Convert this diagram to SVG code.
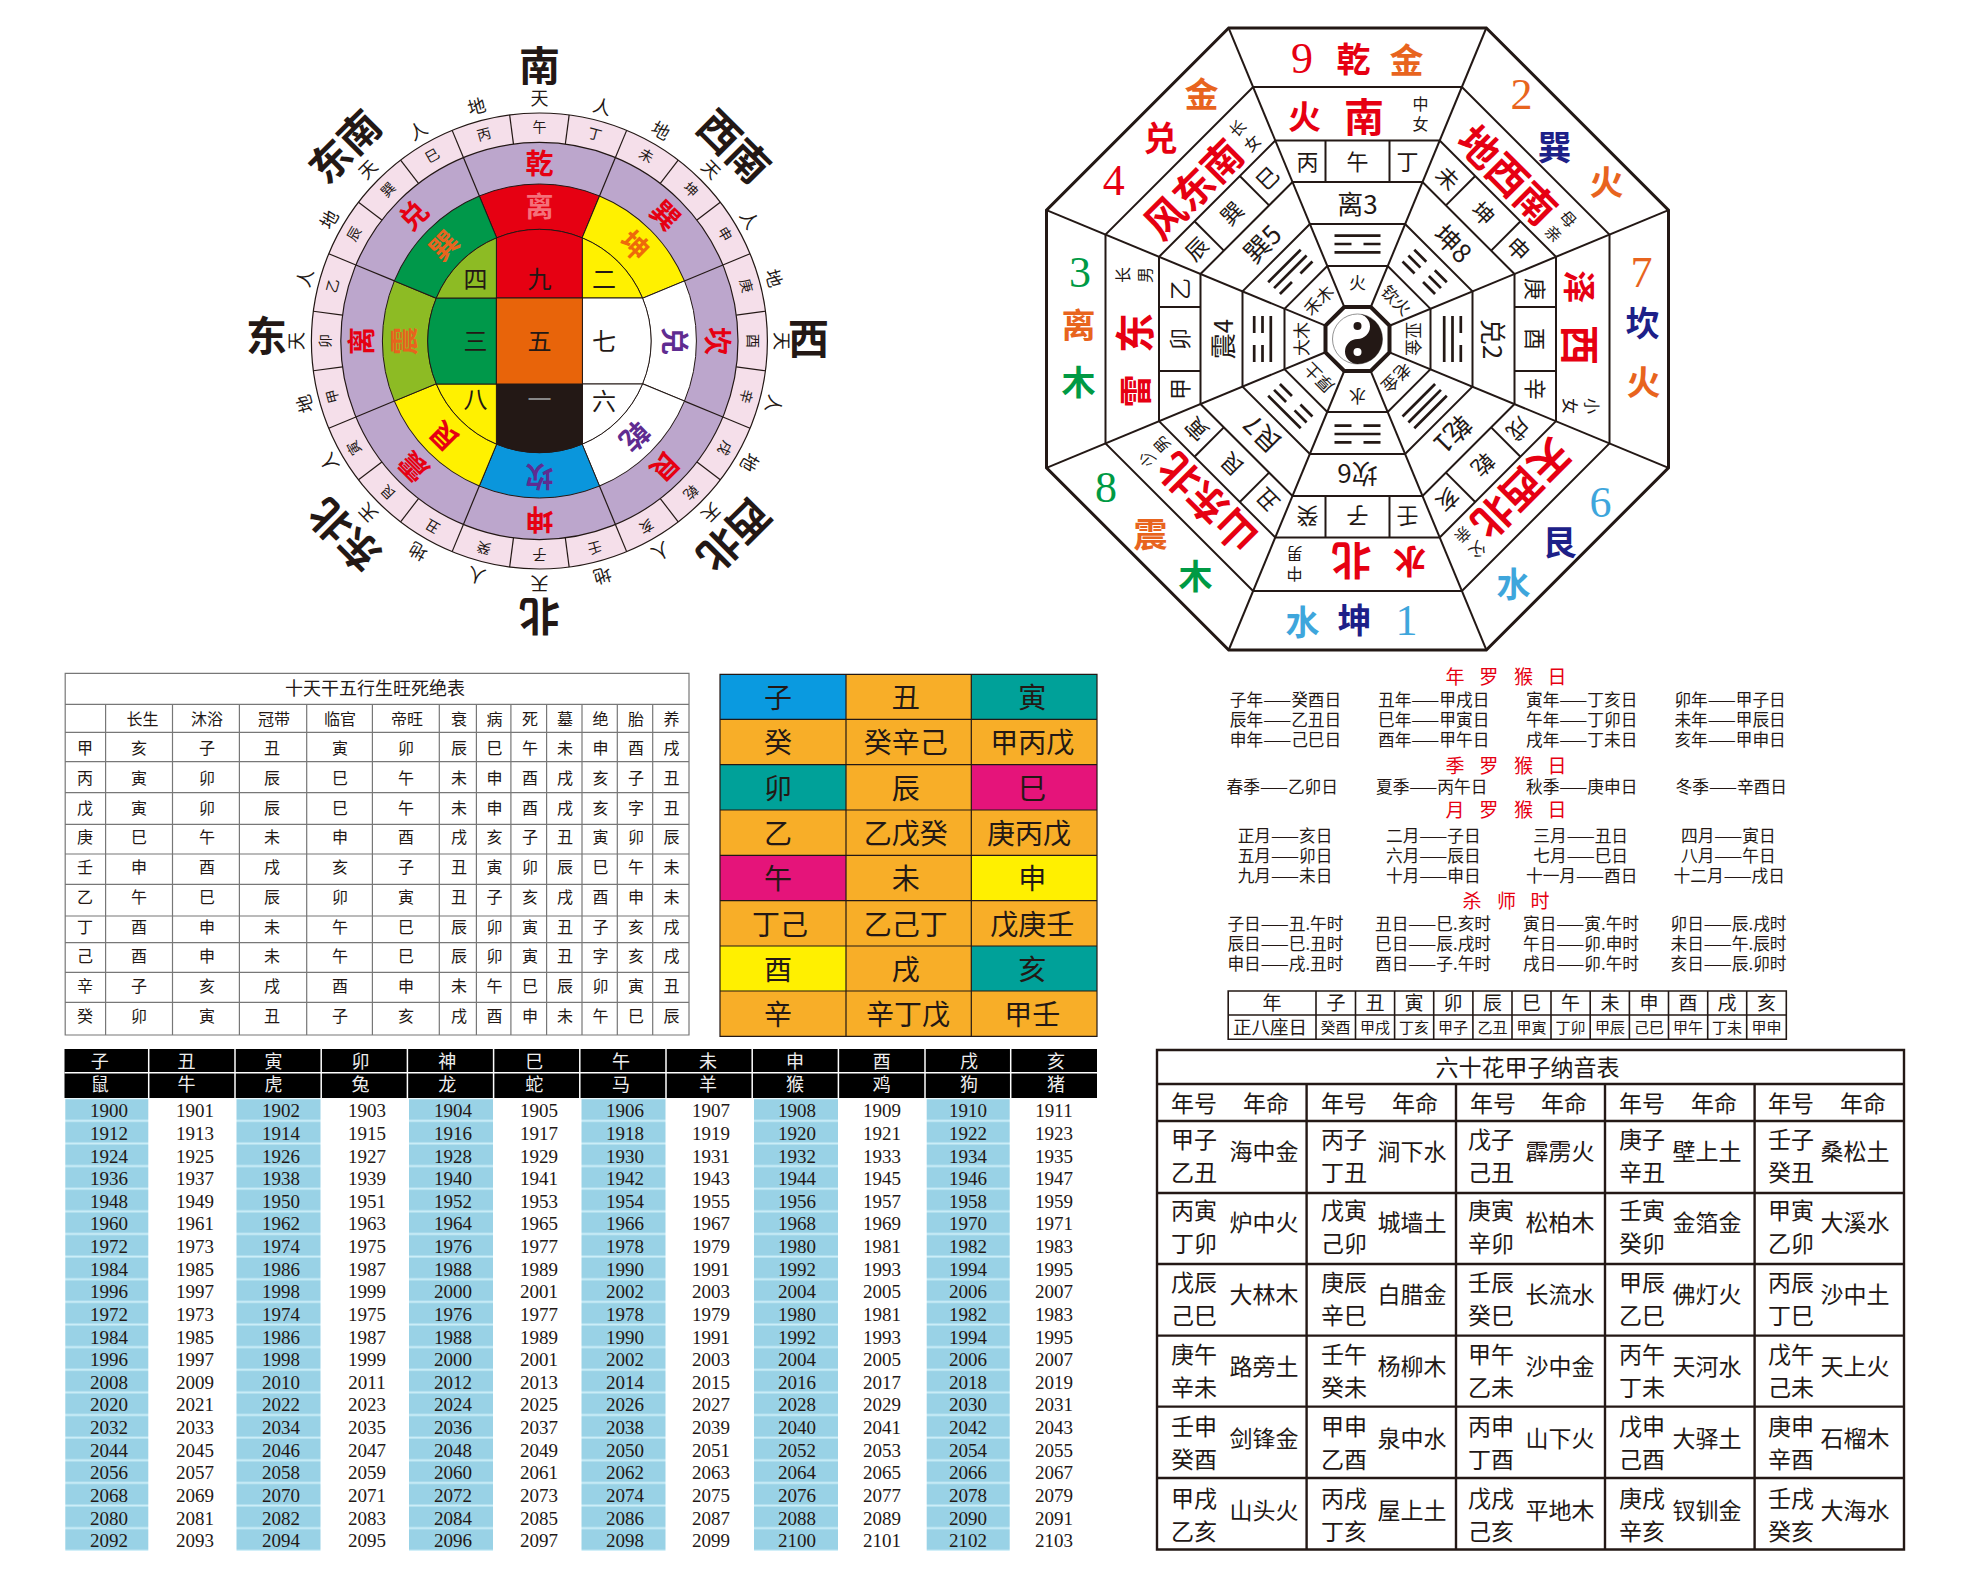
<svg xmlns="http://www.w3.org/2000/svg" xmlns:xlink="http://www.w3.org/1999/xlink" width="1969" height="1575" viewBox="0 0 1969 1575">
<style>
text{font-family:"Noto Sans CJK SC","Noto Sans",sans-serif;text-anchor:middle;dominant-baseline:central;fill:#231815;translate:0 -.056em}
text[transform],text.num,.y text{translate:none}
.b{font-weight:700}
.num{font-family:"Liberation Serif",serif;font-size:44px;font-weight:400}
.red{fill:#e60012}.org{fill:#e8641e}.grn{fill:#009a44}.nvy{fill:#1d2088}.sky{fill:#3ea6dc}.pur{fill:#5f2c91}
.ln{fill:none;stroke:#231815;stroke-width:1.2}
.o{fill:none;stroke:#231815;stroke-width:2}
.y text{font-family:"Liberation Serif",serif;font-size:19px}
.s text{text-anchor:start;font-size:16.7px}
.h text{fill:#e60012;font-size:19px}
.w text{fill:#eee}
</style>
<defs>
<line id="tk" x1="0" y1="-198.6" x2="0" y2="-228"/>
<line id="sp" x1="60.1" y1="-145" x2="76" y2="-183.5"/>
<path id="sec" d="M-60.08-145.05A157 157 0 0 1 60.08-145.05L42.7-103.1A111.6 111.6 0 0 0-42.7-103.1Z" stroke="#231815" stroke-width="1"/>
<line id="spoke" x1="13.3" y1="-32" x2="128.8" y2="-311"/>
<path id="div" d="M-32-157V-198.5M32-157V-198.5"/>
<pattern id="bars" patternUnits="userSpaceOnUse" x="0" y="1098.6" width="100" height="22.63"><rect width="100" height="22.63" fill="#cdeef8"/><rect y="0.6" width="100" height="20.6" fill="#99d2e6"/></pattern>
</defs>
<rect width="1969" height="1575" fill="#fff"/>

<g id="wheel" transform="translate(539.4 341)">
<circle r="228" fill="#f5dfea" stroke="#231815" stroke-width="1.2"/>
<circle r="198.6" fill="#bca6cc" stroke="#231815" stroke-width="1.2"/>
<g stroke="#231815" stroke-width="1.2">
<use xlink:href="#tk" transform="rotate(7.5)"/><use xlink:href="#tk" transform="rotate(22.5)"/><use xlink:href="#tk" transform="rotate(37.5)"/><use xlink:href="#tk" transform="rotate(52.5)"/><use xlink:href="#tk" transform="rotate(67.5)"/><use xlink:href="#tk" transform="rotate(82.5)"/><use xlink:href="#tk" transform="rotate(97.5)"/><use xlink:href="#tk" transform="rotate(112.5)"/><use xlink:href="#tk" transform="rotate(127.5)"/><use xlink:href="#tk" transform="rotate(142.5)"/><use xlink:href="#tk" transform="rotate(157.5)"/><use xlink:href="#tk" transform="rotate(172.5)"/><use xlink:href="#tk" transform="rotate(187.5)"/><use xlink:href="#tk" transform="rotate(202.5)"/><use xlink:href="#tk" transform="rotate(217.5)"/><use xlink:href="#tk" transform="rotate(232.5)"/><use xlink:href="#tk" transform="rotate(247.5)"/><use xlink:href="#tk" transform="rotate(262.5)"/><use xlink:href="#tk" transform="rotate(277.5)"/><use xlink:href="#tk" transform="rotate(292.5)"/><use xlink:href="#tk" transform="rotate(307.5)"/><use xlink:href="#tk" transform="rotate(322.5)"/><use xlink:href="#tk" transform="rotate(337.5)"/><use xlink:href="#tk" transform="rotate(352.5)"/>
<use xlink:href="#sp"/><use xlink:href="#sp" transform="rotate(45)"/><use xlink:href="#sp" transform="rotate(90)"/><use xlink:href="#sp" transform="rotate(135)"/><use xlink:href="#sp" transform="rotate(180)"/><use xlink:href="#sp" transform="rotate(225)"/><use xlink:href="#sp" transform="rotate(270)"/><use xlink:href="#sp" transform="rotate(315)"/>
</g>
<use xlink:href="#sec" fill="#e60012"/><use xlink:href="#sec" transform="rotate(45)" fill="#fff100"/><use xlink:href="#sec" transform="rotate(90)" fill="#fff"/><use xlink:href="#sec" transform="rotate(135)" fill="#fff"/><use xlink:href="#sec" transform="rotate(180)" fill="#0a96dc"/><use xlink:href="#sec" transform="rotate(225)" fill="#fff100"/><use xlink:href="#sec" transform="rotate(270)" fill="#8dbb24"/><use xlink:href="#sec" transform="rotate(315)" fill="#00984a"/>
<g stroke="#231815" stroke-width="1">
<path d="M-43-43H43V-103.1A111.6 111.6 0 0 0-43-103.1Z" fill="#e60012"/>
<path d="M43-43H103.1A111.6 111.6 0 0 0 43-103.1Z" fill="#fff100"/>
<path d="M43-43H103.1A111.6 111.6 0 0 1 103.1 43H43Z" fill="#fff"/>
<path d="M43 43H103.1A111.6 111.6 0 0 1 43 103.1Z" fill="#fff"/>
<path d="M-43 43H43V103.1A111.6 111.6 0 0 1-43 103.1Z" fill="#231815"/>
<path d="M-43 43H-103.1A111.6 111.6 0 0 0-43 103.1Z" fill="#fff100"/>
<path d="M-43-43H-103.1A111.6 111.6 0 0 0-103.1 43H-43Z" fill="#00984a"/>
<path d="M-43-43H-103.1A111.6 111.6 0 0 1-43-103.1Z" fill="#8dbb24"/>
<rect x="-43" y="-43" width="86" height="86" fill="#e8640a"/>
</g>
<g font-size="24">
<text x="-64" y="-62">四</text><text x="0" y="-62">九</text><text x="64.5" y="-62">二</text><text x="-64" y="0">三</text><text x="0" y="0">五</text><text x="64.5" y="0">七</text><text x="-64" y="58">八</text><text x="0" y="58" style="fill:#888">一</text><text x="64.5" y="60">六</text>
</g>
<g font-size="28" class="b">
<text y="-136.5" style="fill:#f4707a" transform="rotate(0)">离</text>
<text y="-136.5" transform="rotate(45)" style="fill:#ee6a0a">坤</text>
<text y="-136.5" transform="rotate(90)" class="pur">兑</text>
<text y="-136.5" transform="rotate(135)" class="pur">乾</text>
<text y="-136.5" transform="rotate(180)" class="pur">坎</text>
<text y="-136.5" transform="rotate(225)" class="red">艮</text>
<text y="-136.5" transform="rotate(270)" class="org">震</text>
<text y="-136.5" transform="rotate(315)" class="org">巽</text>
<text y="-179.5" class="red" transform="rotate(0)">乾</text>
<text y="-179.5" transform="rotate(45)" class="red">巽</text>
<text y="-179.5" transform="rotate(90)" class="red">坎</text>
<text y="-179.5" transform="rotate(135)" class="red">艮</text>
<text y="-179.5" transform="rotate(180)" class="red">坤</text>
<text y="-179.5" transform="rotate(225)" class="red">震</text>
<text y="-179.5" transform="rotate(270)" class="red">离</text>
<text y="-179.5" transform="rotate(315)" class="red">兑</text>
</g>
<g font-size="14">
<text y="-215" transform="rotate(0)">午</text><text y="-215" transform="rotate(15)">丁</text><text y="-215" transform="rotate(30)">未</text><text y="-215" transform="rotate(45)">坤</text><text y="-215" transform="rotate(60)">申</text><text y="-215" transform="rotate(75)">庚</text><text y="-215" transform="rotate(90)">酉</text><text y="-215" transform="rotate(105)">辛</text><text y="-215" transform="rotate(120)">戌</text><text y="-215" transform="rotate(135)">乾</text><text y="-215" transform="rotate(150)">亥</text><text y="-215" transform="rotate(165)">壬</text><text y="-215" transform="rotate(180)">子</text><text y="-215" transform="rotate(195)">癸</text><text y="-215" transform="rotate(210)">丑</text><text y="-215" transform="rotate(225)">艮</text><text y="-215" transform="rotate(240)">寅</text><text y="-215" transform="rotate(255)">甲</text><text y="-215" transform="rotate(270)">卯</text><text y="-215" transform="rotate(285)">乙</text><text y="-215" transform="rotate(300)">辰</text><text y="-215" transform="rotate(315)">巽</text><text y="-215" transform="rotate(330)">巳</text><text y="-215" transform="rotate(345)">丙</text>
</g>
<g font-size="18">
<text y="-244" transform="rotate(0)">天</text><text y="-244" transform="rotate(15)">人</text><text y="-244" transform="rotate(30)">地</text><text y="-244" transform="rotate(45)">天</text><text y="-244" transform="rotate(60)">人</text><text y="-244" transform="rotate(75)">地</text><text y="-244" transform="rotate(90)">天</text><text y="-244" transform="rotate(105)">人</text><text y="-244" transform="rotate(120)">地</text><text y="-244" transform="rotate(135)">天</text><text y="-244" transform="rotate(150)">人</text><text y="-244" transform="rotate(165)">地</text><text y="-244" transform="rotate(180)">天</text><text y="-244" transform="rotate(195)">人</text><text y="-244" transform="rotate(210)">地</text><text y="-244" transform="rotate(225)">天</text><text y="-244" transform="rotate(240)">人</text><text y="-244" transform="rotate(255)">地</text><text y="-244" transform="rotate(270)">天</text><text y="-244" transform="rotate(285)">人</text><text y="-244" transform="rotate(300)">地</text><text y="-244" transform="rotate(315)">天</text><text y="-244" transform="rotate(330)">人</text><text y="-244" transform="rotate(345)">地</text>
</g>
<g font-size="41" class="b">
<text y="-278" transform="rotate(0)">南</text>
<text y="-278" transform="rotate(45)">西南</text>
<text x="269" y="-3">西</text>
<text y="-278" transform="rotate(135)">西北</text>
<text y="-278" transform="rotate(180)">北</text>
<text y="-278" transform="rotate(225)">东北</text>
<text x="-273" y="-6">东</text>
<text y="-278" transform="rotate(315)">东南</text>
</g>
</g>

<g id="octagon" transform="translate(1357.5 339)" stroke-linejoin="miter">
<polygon points="-128.8,-311 128.8,-311 311,-128.8 311,128.8 128.8,311 -128.8,311 -311,128.8 -311,-128.8" fill="#fff" stroke="#231815" stroke-width="3"/>
<polygon class="o" points="-104.4,-252 104.4,-252 252,-104.4 252,104.4 104.4,252 -104.4,252 -252,104.4 -252,-104.4"/>
<polygon class="o" points="-82.2,-198.5 82.2,-198.5 198.5,-82.2 198.5,82.2 82.2,198.5 -82.2,198.5 -198.5,82.2 -198.5,-82.2"/>
<polygon class="o" points="-65,-157 65,-157 157,-65 157,65 65,157 -65,157 -157,65 -157,-65"/>
<polygon class="o" points="-47.6,-115 47.6,-115 115,-47.6 115,47.6 47.6,115 -47.6,115 -115,47.6 -115,-47.6"/>
<polygon class="o" points="-30.2,-73 30.2,-73 73,-30.2 73,30.2 30.2,73 -30.2,73 -73,30.2 -73,-30.2"/>
<g stroke="#231815" stroke-width="2" fill="none">
<use xlink:href="#spoke"/><use xlink:href="#spoke" transform="rotate(45)"/><use xlink:href="#spoke" transform="rotate(90)"/><use xlink:href="#spoke" transform="rotate(135)"/><use xlink:href="#spoke" transform="rotate(180)"/><use xlink:href="#spoke" transform="rotate(225)"/><use xlink:href="#spoke" transform="rotate(270)"/><use xlink:href="#spoke" transform="rotate(315)"/>
<use xlink:href="#div"/><use xlink:href="#div" transform="rotate(45)"/><use xlink:href="#div" transform="rotate(90)"/><use xlink:href="#div" transform="rotate(135)"/><use xlink:href="#div" transform="rotate(180)"/><use xlink:href="#div" transform="rotate(225)"/><use xlink:href="#div" transform="rotate(270)"/><use xlink:href="#div" transform="rotate(315)"/>
</g>
<polygon points="-13.3,-32 13.3,-32 32,-13.3 32,13.3 13.3,32 -13.3,32 -32,13.3 -32,-13.3" fill="#fff" stroke="#231815" stroke-width="4"/>
<circle r="25" fill="#fff" stroke="#777" stroke-width="0.8"/>
<path d="M0-25A25 25 0 0 1 0 25A12.5 12.5 0 0 1 0 0A12.5 12.5 0 0 0 0-25Z" fill="#231815"/>
<circle cy="-13" r="4" fill="#231815"/><circle cy="13" r="4" fill="#fff"/>
<g stroke="#231815" stroke-width="2.7" fill="none">
<path d="M-23-103.3H23M-23-95H-6M6-95H23M-23-86.7H23"/>
<path transform="rotate(45)" d="M-23-103.3H-6M6-103.3H23M-23-95H-6M6-95H23M-23-86.7H-6M6-86.7H23"/>
<path transform="rotate(90)" d="M-23-103.3H-6M6-103.3H23M-23-95H23M-23-86.7H23"/>
<path transform="rotate(135)" d="M-23-103.3H23M-23-95H23M-23-86.7H23"/>
<path transform="rotate(180)" d="M-23-103.3H-6M6-103.3H23M-23-95H23M-23-86.7H-6M6-86.7H23"/>
<path transform="rotate(225)" d="M-23-103.3H23M-23-95H-6M6-95H23M-23-86.7H-6M6-86.7H23"/>
<path transform="rotate(270)" d="M-23-103.3H-6M6-103.3H23M-23-95H-6M6-95H23M-23-86.7H23"/>
<path transform="rotate(315)" d="M-23-103.3H23M-23-95H23M-23-86.7H-6M6-86.7H23"/>
</g>
<g font-size="17">
<text y="-58" transform="rotate(0)">火</text><text y="-56" transform="rotate(45)">钦火</text><text y="-57" transform="rotate(90)">亚金</text><text y="-56" transform="rotate(135)">老金</text><text y="-58" transform="rotate(180)">水</text><text y="-56" transform="rotate(225)">厚土</text><text y="-57" transform="rotate(270)">大木</text><text y="-56" transform="rotate(315)">禾木</text>
</g>
<g font-size="26">
<text y="-136.5" transform="rotate(0)">离3</text><text y="-136.5" transform="rotate(45)">坤8</text><text y="-136.5" transform="rotate(90)">兑2</text><text y="-136.5" transform="rotate(135)">乾1</text><text y="-136.5" transform="rotate(180)">坎6</text><text y="-136.5" transform="rotate(225)">艮7</text><text y="-136.5" transform="rotate(270)">震4</text><text y="-136.5" transform="rotate(315)">巽5</text>
</g>
<g font-size="22">
<text x="-50" y="-178">丙</text><text y="-178">午</text><text x="50" y="-178">丁</text>
<g transform="rotate(45)"><text x="-50" y="-178">未</text><text y="-178">坤</text><text x="50" y="-178">申</text></g>
<g transform="rotate(90)"><text x="-50" y="-178">庚</text><text y="-178">酉</text><text x="50" y="-178">辛</text></g>
<g transform="rotate(135)"><text x="-50" y="-178">戌</text><text y="-178">乾</text><text x="50" y="-178">亥</text></g>
<g transform="rotate(180)"><text x="-50" y="-178">壬</text><text y="-178">子</text><text x="50" y="-178">癸</text></g>
<g transform="rotate(225)"><text x="-50" y="-178">丑</text><text y="-178">艮</text><text x="50" y="-178">寅</text></g>
<g transform="rotate(270)"><text x="-50" y="-178">甲</text><text y="-178">卯</text><text x="50" y="-178">乙</text></g>
<g transform="rotate(315)"><text x="-50" y="-178">辰</text><text y="-178">巽</text><text x="50" y="-178">巳</text></g>
</g>
<g class="b">
<g><text x="-53" y="-222" font-size="33" class="red">火</text><text x="6.5" y="-222" font-size="40" class="red">南</text></g>
<g transform="rotate(90)"><text x="-52" y="-222" font-size="33" class="red">泽</text><text x="6" y="-222" font-size="40" class="red">西</text></g>
<g transform="rotate(180)"><text x="-52" y="-222" font-size="33" class="red">水</text><text x="6" y="-222" font-size="40" class="red">北</text></g>
<g transform="rotate(270)"><text x="-52" y="-222" font-size="33" class="red">雷</text><text x="6" y="-222" font-size="40" class="red">东</text></g>
<text x="-10" y="-224" font-size="40" class="red" transform="rotate(45)">地西南</text>
<text x="-10" y="-224" font-size="40" class="red" transform="rotate(135)">天西北</text>
<text x="-10" y="-224" font-size="40" class="red" transform="rotate(225)">山东北</text>
<text x="-10" y="-224" font-size="40" class="red" transform="rotate(315)">风东南</text>
</g>
<g font-size="16">
<text x="63" y="-235">中</text><text x="63" y="-215">女</text>
<g transform="rotate(45)"><text x="64" y="-234">母</text><text x="64" y="-213">亲</text></g>
<g transform="rotate(90)"><text x="67" y="-235">小</text><text x="67" y="-213">女</text></g>
<g transform="rotate(135)"><text x="64" y="-234">父</text><text x="64" y="-213">亲</text></g>
<g transform="rotate(180)"><text x="63" y="-235">中</text><text x="63" y="-215">男</text></g>
<g transform="rotate(225)"><text x="64" y="-234">少</text><text x="64" y="-213">男</text></g>
<g transform="rotate(270)"><text x="64" y="-235">长</text><text x="64" y="-213">男</text></g>
<g transform="rotate(315)"><text x="64" y="-234">长</text><text x="64" y="-213">女</text></g>
</g>
<g font-size="34" class="b">
<text x="-55.5" y="-281" class="num red">9</text><text x="-4" y="-280" class="red">乾</text><text x="49" y="-279" class="org">金</text>
<text x="164" y="-245" class="num org">2</text><text x="197" y="-192" class="nvy">巽</text><text x="249" y="-157" class="org">火</text>
<text x="284" y="-67" class="num org">7</text><text x="285" y="-16" class="nvy">坎</text><text x="286" y="43" class="org">火</text>
<text x="243" y="163" class="num sky">6</text><text x="202" y="203" class="nvy">艮</text><text x="156" y="245" class="sky">水</text>
<text x="49" y="281" class="num sky">1</text><text x="-3" y="281" class="nvy">坤</text><text x="-55" y="283" class="sky">水</text>
<text x="-251.5" y="148.6" class="num grn">8</text><text x="-207" y="195" class="org">震</text><text x="-162" y="237" class="grn">木</text>
<text x="-277.5" y="-67" class="num grn">3</text><text x="-279" y="-13.5" class="org">离</text><text x="-279" y="43" class="grn">木</text>
<text x="-243.7" y="-158.7" class="num red">4</text><text x="-197" y="-201" class="red">兑</text><text x="-156" y="-245" class="org">金</text>
</g>
</g>

<g id="table-changsheng" font-size="16">
<path stroke="#777" stroke-width="1.2" fill="none" d="M65.2 673.3H689V1035H65.2ZM65.2 704.3H689M65.2 732.3H689M65.2 761.7H689M65.2 792.7H689M65.2 824.3H689M65.2 854H689M65.2 884.3H689M65.2 916H689M65.2 942.7H689M65.2 972.3H689M65.2 1002.3H689M105.6 704.3V1035M172.5 704.3V1035M239.4 704.3V1035M306.7 704.3V1035M372.4 704.3V1035M439.3 704.3V1035M476.4 704.3V1035M510.9 704.3V1035M546.6 704.3V1035M582 704.3V1035M617.3 704.3V1035M652.7 704.3V1035"/>
<text x="375" y="688" font-size="18">十天干五行生旺死绝表</text>
<g transform="translate(0 719.3)"><text x="142.6">长生</text><text x="207">沐浴</text><text x="274">冠带</text><text x="340">临官</text><text x="407">帝旺</text><text x="459">衰</text><text x="494.5">病</text><text x="530">死</text><text x="565">墓</text><text x="600.5">绝</text><text x="636">胎</text><text x="671.6">养</text></g>
<g transform="translate(0 747.7)"><text x="85">甲</text><text x="139">亥</text><text x="207">子</text><text x="272">丑</text><text x="340">寅</text><text x="406">卯</text><text x="459">辰</text><text x="494.5">巳</text><text x="530">午</text><text x="565">未</text><text x="600.5">申</text><text x="636">酉</text><text x="671.6">戌</text></g>
<g transform="translate(0 777.7)"><text x="85">丙</text><text x="139">寅</text><text x="207">卯</text><text x="272">辰</text><text x="340">巳</text><text x="406">午</text><text x="459">未</text><text x="494.5">申</text><text x="530">酉</text><text x="565">戌</text><text x="600.5">亥</text><text x="636">子</text><text x="671.6">丑</text></g>
<g transform="translate(0 807.7)"><text x="85">戊</text><text x="139">寅</text><text x="207">卯</text><text x="272">辰</text><text x="340">巳</text><text x="406">午</text><text x="459">未</text><text x="494.5">申</text><text x="530">酉</text><text x="565">戌</text><text x="600.5">亥</text><text x="636">字</text><text x="671.6">丑</text></g>
<g transform="translate(0 836.7)"><text x="85">庚</text><text x="139">巳</text><text x="207">午</text><text x="272">未</text><text x="340">申</text><text x="406">酉</text><text x="459">戌</text><text x="494.5">亥</text><text x="530">子</text><text x="565">丑</text><text x="600.5">寅</text><text x="636">卯</text><text x="671.6">辰</text></g>
<g transform="translate(0 866.7)"><text x="85">壬</text><text x="139">申</text><text x="207">酉</text><text x="272">戌</text><text x="340">亥</text><text x="406">子</text><text x="459">丑</text><text x="494.5">寅</text><text x="530">卯</text><text x="565">辰</text><text x="600.5">巳</text><text x="636">午</text><text x="671.6">未</text></g>
<g transform="translate(0 897.3)"><text x="85">乙</text><text x="139">午</text><text x="207">巳</text><text x="272">辰</text><text x="340">卯</text><text x="406">寅</text><text x="459">丑</text><text x="494.5">子</text><text x="530">亥</text><text x="565">戌</text><text x="600.5">酉</text><text x="636">申</text><text x="671.6">未</text></g>
<g transform="translate(0 926.7)"><text x="85">丁</text><text x="139">酉</text><text x="207">申</text><text x="272">未</text><text x="340">午</text><text x="406">巳</text><text x="459">辰</text><text x="494.5">卯</text><text x="530">寅</text><text x="565">丑</text><text x="600.5">子</text><text x="636">亥</text><text x="671.6">戌</text></g>
<g transform="translate(0 956)"><text x="85">己</text><text x="139">酉</text><text x="207">申</text><text x="272">未</text><text x="340">午</text><text x="406">巳</text><text x="459">辰</text><text x="494.5">卯</text><text x="530">寅</text><text x="565">丑</text><text x="600.5">字</text><text x="636">亥</text><text x="671.6">戌</text></g>
<g transform="translate(0 986)"><text x="85">辛</text><text x="139">子</text><text x="207">亥</text><text x="272">戌</text><text x="340">酉</text><text x="406">申</text><text x="459">未</text><text x="494.5">午</text><text x="530">巳</text><text x="565">辰</text><text x="600.5">卯</text><text x="636">寅</text><text x="671.6">丑</text></g>
<g transform="translate(0 1016)"><text x="85">癸</text><text x="139">卯</text><text x="207">寅</text><text x="272">丑</text><text x="340">子</text><text x="406">亥</text><text x="459">戌</text><text x="494.5">酉</text><text x="530">申</text><text x="565">未</text><text x="600.5">午</text><text x="636">巳</text><text x="671.6">辰</text></g>
</g>

<g id="table-hidden-stems" font-size="28">
<rect x="720" y="674.3" width="377" height="362" fill="#f8ae28"/>
<rect x="720" y="674.3" width="126" height="45" fill="#0a9ae0"/>
<rect x="971.3" y="674.3" width="125.7" height="45" fill="#00a199"/>
<rect x="720" y="764.7" width="126" height="45.3" fill="#00a199"/>
<rect x="971.3" y="764.7" width="125.7" height="45.3" fill="#e5147a"/>
<rect x="720" y="855.3" width="126" height="45.4" fill="#e5147a"/>
<rect x="971.3" y="855.3" width="125.7" height="45.4" fill="#fff000"/>
<rect x="720" y="946" width="126" height="45" fill="#fff000"/>
<rect x="971.3" y="946" width="125.7" height="45" fill="#00a199"/>
<path class="ln" d="M720 674.3H1097V1036.3H720ZM720 719.3H1097M720 764.7H1097M720 810H1097M720 855.3H1097M720 900.7H1097M720 946H1097M720 991H1097M846 674.3V1036.3M971.3 674.3V1036.3"/>
<text x="778" y="697.3">子</text><text x="905.7" y="697.3">丑</text><text x="1032.3" y="697.3">寅</text>
<text x="778" y="742.7">癸</text><text x="905.7" y="742.7">癸辛己</text><text x="1032.3" y="742.7">甲丙戊</text>
<text x="778" y="788.3">卯</text><text x="905.7" y="788.3">辰</text><text x="1032.3" y="788.3">巳</text>
<text x="778" y="833.3">乙</text><text x="905.7" y="833.3">乙戊癸</text><text x="1029" y="833.3">庚丙戊</text>
<text x="778" y="878.3">午</text><text x="905.7" y="878.3">未</text><text x="1032.3" y="878.3">申</text>
<text x="780" y="925">丁己</text><text x="905.7" y="925">乙己丁</text><text x="1032.3" y="925">戊庚壬</text>
<text x="778" y="970">酉</text><text x="905.7" y="970">戌</text><text x="1032.3" y="970">亥</text>
<text x="778" y="1015">辛</text><text x="908" y="1015">辛丁戊</text><text x="1032.3" y="1015">甲壬</text>
</g>

<g id="notes">
<g class="h">
<text x="1455" y="676.7">年</text><text x="1488.7" y="676.7">罗</text><text x="1523.4" y="676.7">猴</text><text x="1557" y="676.7">日</text>
<text x="1455" y="766">季</text><text x="1488.7" y="766">罗</text><text x="1523.4" y="766">猴</text><text x="1557" y="766">日</text>
<text x="1455" y="810">月</text><text x="1488.7" y="810">罗</text><text x="1523.4" y="810">猴</text><text x="1557" y="810">日</text>
<text x="1472" y="900.7">杀</text><text x="1506.4" y="900.7">师</text><text x="1540" y="900.7">时</text>
</g>
<g class="s">
<text x="1229.8" y="700">子年——癸酉日</text><text x="1378" y="700">丑年——甲戌日</text><text x="1526" y="700">寅年——丁亥日</text><text x="1674.4" y="700">卯年——甲子日</text>
<text x="1229.8" y="720">辰年——乙丑日</text><text x="1378" y="720">巳年——甲寅日</text><text x="1526" y="720">午年——丁卯日</text><text x="1674.4" y="720">未年——甲辰日</text>
<text x="1229.8" y="740">申年——己巳日</text><text x="1378" y="740">酉年——甲午日</text><text x="1526" y="740">戌年——丁未日</text><text x="1674.4" y="740">亥年——甲申日</text>
<text x="1226.6" y="787.3">春季——乙卯日</text><text x="1376" y="787.3">夏季——丙午日</text><text x="1526" y="787.3">秋季——庚申日</text><text x="1675.6" y="787.3">冬季——辛酉日</text>
<text x="1237.7" y="835.7">正月——亥日</text><text x="1386" y="835.7">二月——子日</text><text x="1533.3" y="835.7">三月——丑日</text><text x="1681" y="835.7">四月——寅日</text>
<text x="1237.7" y="855.7">五月——卯日</text><text x="1386" y="855.7">六月——辰日</text><text x="1533.3" y="855.7">七月——巳日</text><text x="1681" y="855.7">八月——午日</text>
<text x="1237.7" y="875.7">九月——未日</text><text x="1386" y="875.7">十月——申日</text><text x="1526" y="875.7">十一月——酉日</text><text x="1673.6" y="875.7">十二月——戌日</text>
<text x="1227.4" y="924.3">子日——丑.午时</text><text x="1375" y="924.3">丑日——巳.亥时</text><text x="1523" y="924.3">寅日——寅.午时</text><text x="1670.5" y="924.3">卯日——辰.戌时</text>
<text x="1227.4" y="944.3">辰日——巳.丑时</text><text x="1375" y="944.3">巳日——辰.戌时</text><text x="1523" y="944.3">午日——卯.申时</text><text x="1670.5" y="944.3">未日——午.辰时</text>
<text x="1227.4" y="964.3">申日——戌.丑时</text><text x="1375" y="964.3">酉日——子.午时</text><text x="1523" y="964.3">戌日——卯.午时</text><text x="1670.5" y="964.3">亥日——辰.卯时</text>
</g>
</g>

<g id="table-zhengba">
<path fill="none" stroke="#231815" stroke-width="1.6" d="M1228.2 991H1786.3V1039.3H1228.2ZM1228.2 1015H1786.3M1316 991V1039.3M1355.5 991V1039.3M1394.6 991V1039.3M1433.7 991V1039.3M1472.9 991V1039.3M1512 991V1039.3M1551 991V1039.3M1590.2 991V1039.3M1629.4 991V1039.3M1668.5 991V1039.3M1707.7 991V1039.3M1746.7 991V1039.3"/>
<g font-size="19" transform="translate(0 1003)"><text x="1272">年</text><text x="1336">子</text><text x="1375">丑</text><text x="1414">寅</text><text x="1453">卯</text><text x="1492.5">辰</text><text x="1531.5">巳</text><text x="1570.5">午</text><text x="1610">未</text><text x="1649">申</text><text x="1688">酉</text><text x="1727">戌</text><text x="1766.5">亥</text></g>
<g font-size="15" transform="translate(0 1027)"><text x="1270" font-size="18.5">正八座日</text><text x="1335.5">癸酉</text><text x="1375">甲戌</text><text x="1414">丁亥</text><text x="1453">甲子</text><text x="1492.5">乙丑</text><text x="1531.5">甲寅</text><text x="1570.5">丁卯</text><text x="1610">甲辰</text><text x="1649">己巳</text><text x="1688">甲午</text><text x="1727">丁未</text><text x="1766.5">甲申</text></g>
</g>

<g id="table-years">
<rect x="64.5" y="1049" width="1032.5" height="49" fill="#000"/>
<path stroke="#fff" stroke-width="1.5" fill="none" d="M64.5 1072.8H1097M148.7 1049V1098M235 1049V1098M321.2 1049V1098M407.4 1049V1098M493.6 1049V1098M579.8 1049V1098M666 1049V1098M752.2 1049V1098M838.4 1049V1098M925 1049V1098M1010.7 1049V1098"/>
<g font-size="18" class="w">
<g transform="translate(0 1061)"><text x="99.7">子</text><text x="186.6">丑</text><text x="273.5">寅</text><text x="360.4">卯</text><text x="447.3">神</text><text x="534.2">巳</text><text x="621.1">午</text><text x="708">未</text><text x="795">申</text><text x="881.7">酉</text><text x="969">戌</text><text x="1056">亥</text></g>
<g transform="translate(0 1084.3)"><text x="99.7">鼠</text><text x="186.6">牛</text><text x="273.5">虎</text><text x="360.4">兔</text><text x="447.3">龙</text><text x="534.2">蛇</text><text x="621.1">马</text><text x="708">羊</text><text x="795">猴</text><text x="881.7">鸡</text><text x="969">狗</text><text x="1056">猪</text></g>
</g>
<g fill="url(#bars)">
<rect x="65.3" y="1098.6" width="83" height="452.2"/><rect x="236.5" y="1098.6" width="84" height="452.2"/><rect x="409" y="1098.6" width="84" height="452.2"/><rect x="581.5" y="1098.6" width="84" height="452.2"/><rect x="754" y="1098.6" width="84" height="452.2"/><rect x="926.7" y="1098.6" width="83" height="452.2"/>
</g>
<g class="y">
<g transform="translate(0 1110.7)"><text x="109">1900</text><text x="195">1901</text><text x="281">1902</text><text x="367">1903</text><text x="453">1904</text><text x="539">1905</text><text x="625">1906</text><text x="711">1907</text><text x="797">1908</text><text x="882">1909</text><text x="968">1910</text><text x="1054">1911</text></g>
<g transform="translate(0 1133.3)"><text x="109">1912</text><text x="195">1913</text><text x="281">1914</text><text x="367">1915</text><text x="453">1916</text><text x="539">1917</text><text x="625">1918</text><text x="711">1919</text><text x="797">1920</text><text x="882">1921</text><text x="968">1922</text><text x="1054">1923</text></g>
<g transform="translate(0 1156)"><text x="109">1924</text><text x="195">1925</text><text x="281">1926</text><text x="367">1927</text><text x="453">1928</text><text x="539">1929</text><text x="625">1930</text><text x="711">1931</text><text x="797">1932</text><text x="882">1933</text><text x="968">1934</text><text x="1054">1935</text></g>
<g transform="translate(0 1178.6)"><text x="109">1936</text><text x="195">1937</text><text x="281">1938</text><text x="367">1939</text><text x="453">1940</text><text x="539">1941</text><text x="625">1942</text><text x="711">1943</text><text x="797">1944</text><text x="882">1945</text><text x="968">1946</text><text x="1054">1947</text></g>
<g transform="translate(0 1201.2)"><text x="109">1948</text><text x="195">1949</text><text x="281">1950</text><text x="367">1951</text><text x="453">1952</text><text x="539">1953</text><text x="625">1954</text><text x="711">1955</text><text x="797">1956</text><text x="882">1957</text><text x="968">1958</text><text x="1054">1959</text></g>
<g transform="translate(0 1223.9)"><text x="109">1960</text><text x="195">1961</text><text x="281">1962</text><text x="367">1963</text><text x="453">1964</text><text x="539">1965</text><text x="625">1966</text><text x="711">1967</text><text x="797">1968</text><text x="882">1969</text><text x="968">1970</text><text x="1054">1971</text></g>
<g transform="translate(0 1246.5)"><text x="109">1972</text><text x="195">1973</text><text x="281">1974</text><text x="367">1975</text><text x="453">1976</text><text x="539">1977</text><text x="625">1978</text><text x="711">1979</text><text x="797">1980</text><text x="882">1981</text><text x="968">1982</text><text x="1054">1983</text></g>
<g transform="translate(0 1269.1)"><text x="109">1984</text><text x="195">1985</text><text x="281">1986</text><text x="367">1987</text><text x="453">1988</text><text x="539">1989</text><text x="625">1990</text><text x="711">1991</text><text x="797">1992</text><text x="882">1993</text><text x="968">1994</text><text x="1054">1995</text></g>
<g transform="translate(0 1291.7)"><text x="109">1996</text><text x="195">1997</text><text x="281">1998</text><text x="367">1999</text><text x="453">2000</text><text x="539">2001</text><text x="625">2002</text><text x="711">2003</text><text x="797">2004</text><text x="882">2005</text><text x="968">2006</text><text x="1054">2007</text></g>
<g transform="translate(0 1314.4)"><text x="109">1972</text><text x="195">1973</text><text x="281">1974</text><text x="367">1975</text><text x="453">1976</text><text x="539">1977</text><text x="625">1978</text><text x="711">1979</text><text x="797">1980</text><text x="882">1981</text><text x="968">1982</text><text x="1054">1983</text></g>
<g transform="translate(0 1337)"><text x="109">1984</text><text x="195">1985</text><text x="281">1986</text><text x="367">1987</text><text x="453">1988</text><text x="539">1989</text><text x="625">1990</text><text x="711">1991</text><text x="797">1992</text><text x="882">1993</text><text x="968">1994</text><text x="1054">1995</text></g>
<g transform="translate(0 1359.6)"><text x="109">1996</text><text x="195">1997</text><text x="281">1998</text><text x="367">1999</text><text x="453">2000</text><text x="539">2001</text><text x="625">2002</text><text x="711">2003</text><text x="797">2004</text><text x="882">2005</text><text x="968">2006</text><text x="1054">2007</text></g>
<g transform="translate(0 1382.3)"><text x="109">2008</text><text x="195">2009</text><text x="281">2010</text><text x="367">2011</text><text x="453">2012</text><text x="539">2013</text><text x="625">2014</text><text x="711">2015</text><text x="797">2016</text><text x="882">2017</text><text x="968">2018</text><text x="1054">2019</text></g>
<g transform="translate(0 1404.9)"><text x="109">2020</text><text x="195">2021</text><text x="281">2022</text><text x="367">2023</text><text x="453">2024</text><text x="539">2025</text><text x="625">2026</text><text x="711">2027</text><text x="797">2028</text><text x="882">2029</text><text x="968">2030</text><text x="1054">2031</text></g>
<g transform="translate(0 1427.5)"><text x="109">2032</text><text x="195">2033</text><text x="281">2034</text><text x="367">2035</text><text x="453">2036</text><text x="539">2037</text><text x="625">2038</text><text x="711">2039</text><text x="797">2040</text><text x="882">2041</text><text x="968">2042</text><text x="1054">2043</text></g>
<g transform="translate(0 1450.2)"><text x="109">2044</text><text x="195">2045</text><text x="281">2046</text><text x="367">2047</text><text x="453">2048</text><text x="539">2049</text><text x="625">2050</text><text x="711">2051</text><text x="797">2052</text><text x="882">2053</text><text x="968">2054</text><text x="1054">2055</text></g>
<g transform="translate(0 1472.8)"><text x="109">2056</text><text x="195">2057</text><text x="281">2058</text><text x="367">2059</text><text x="453">2060</text><text x="539">2061</text><text x="625">2062</text><text x="711">2063</text><text x="797">2064</text><text x="882">2065</text><text x="968">2066</text><text x="1054">2067</text></g>
<g transform="translate(0 1495.4)"><text x="109">2068</text><text x="195">2069</text><text x="281">2070</text><text x="367">2071</text><text x="453">2072</text><text x="539">2073</text><text x="625">2074</text><text x="711">2075</text><text x="797">2076</text><text x="882">2077</text><text x="968">2078</text><text x="1054">2079</text></g>
<g transform="translate(0 1518.1)"><text x="109">2080</text><text x="195">2081</text><text x="281">2082</text><text x="367">2083</text><text x="453">2084</text><text x="539">2085</text><text x="625">2086</text><text x="711">2087</text><text x="797">2088</text><text x="882">2089</text><text x="968">2090</text><text x="1054">2091</text></g>
<g transform="translate(0 1540.7)"><text x="109">2092</text><text x="195">2093</text><text x="281">2094</text><text x="367">2095</text><text x="453">2096</text><text x="539">2097</text><text x="625">2098</text><text x="711">2099</text><text x="797">2100</text><text x="882">2101</text><text x="968">2102</text><text x="1054">2103</text></g>
</g>
</g>

<g id="table-nayin" font-size="23">
<path fill="none" stroke="#231815" stroke-width="2.4" d="M1157 1050H1904V1549.5H1157ZM1157 1084H1904M1157 1121H1904M1157 1193H1904M1157 1264H1904M1157 1335.6H1904M1157 1406.6H1904M1157 1478H1904M1306.6 1084V1549.5M1456 1084V1549.5M1605 1084V1549.5M1754.6 1084V1549.5"/>
<text x="1527.5" y="1067">六十花甲子纳音表</text>
<g transform="translate(0 1103.5)"><text x="1194">年号</text><text x="1266">年命</text><text x="1344">年号</text><text x="1415">年命</text><text x="1493">年号</text><text x="1564">年命</text><text x="1642">年号</text><text x="1714">年命</text><text x="1791">年号</text><text x="1863">年命</text></g>
<g transform="translate(0 1139)"><text x="1194">甲子</text><text x="1194" y="33">乙丑</text><text x="1264" y="12">海中金</text><text x="1344">丙子</text><text x="1344" y="33">丁丑</text><text x="1412" y="12">涧下水</text><text x="1491">戊子</text><text x="1491" y="33">己丑</text><text x="1560" y="12">霹雳火</text><text x="1642">庚子</text><text x="1642" y="33">辛丑</text><text x="1707" y="12">壁上土</text><text x="1791">壬子</text><text x="1791" y="33">癸丑</text><text x="1855" y="12">桑松土</text></g>
<g transform="translate(0 1210.6)"><text x="1194">丙寅</text><text x="1194" y="33">丁卯</text><text x="1264" y="12">炉中火</text><text x="1344">戊寅</text><text x="1344" y="33">己卯</text><text x="1412" y="12">城墙土</text><text x="1491">庚寅</text><text x="1491" y="33">辛卯</text><text x="1560" y="12">松柏木</text><text x="1642">壬寅</text><text x="1642" y="33">癸卯</text><text x="1707" y="12">金箔金</text><text x="1791">甲寅</text><text x="1791" y="33">乙卯</text><text x="1855" y="12">大溪水</text></g>
<g transform="translate(0 1282.6)"><text x="1194">戊辰</text><text x="1194" y="33">己巳</text><text x="1264" y="12">大林木</text><text x="1344">庚辰</text><text x="1344" y="33">辛巳</text><text x="1412" y="12">白腊金</text><text x="1491">壬辰</text><text x="1491" y="33">癸巳</text><text x="1560" y="12">长流水</text><text x="1642">甲辰</text><text x="1642" y="33">乙巳</text><text x="1707" y="12">佛灯火</text><text x="1791">丙辰</text><text x="1791" y="33">丁巳</text><text x="1855" y="12">沙中土</text></g>
<g transform="translate(0 1354.2)"><text x="1194">庚午</text><text x="1194" y="33">辛未</text><text x="1264" y="12">路旁土</text><text x="1344">壬午</text><text x="1344" y="33">癸未</text><text x="1412" y="12">杨柳木</text><text x="1491">甲午</text><text x="1491" y="33">乙未</text><text x="1560" y="12">沙中金</text><text x="1642">丙午</text><text x="1642" y="33">丁未</text><text x="1707" y="12">天河水</text><text x="1791">戊午</text><text x="1791" y="33">己未</text><text x="1855" y="12">天上火</text></g>
<g transform="translate(0 1426.2)"><text x="1194">壬申</text><text x="1194" y="33">癸酉</text><text x="1264" y="12">剑锋金</text><text x="1344">甲申</text><text x="1344" y="33">乙酉</text><text x="1412" y="12">泉中水</text><text x="1491">丙申</text><text x="1491" y="33">丁酉</text><text x="1560" y="12">山下火</text><text x="1642">戊申</text><text x="1642" y="33">己酉</text><text x="1707" y="12">大驿土</text><text x="1791">庚申</text><text x="1791" y="33">辛酉</text><text x="1855" y="12">石榴木</text></g>
<g transform="translate(0 1498.5)"><text x="1194">甲戌</text><text x="1194" y="33">乙亥</text><text x="1264" y="12">山头火</text><text x="1344">丙戌</text><text x="1344" y="33">丁亥</text><text x="1412" y="12">屋上土</text><text x="1491">戊戌</text><text x="1491" y="33">己亥</text><text x="1560" y="12">平地木</text><text x="1642">庚戌</text><text x="1642" y="33">辛亥</text><text x="1707" y="12">钗钏金</text><text x="1791">壬戌</text><text x="1791" y="33">癸亥</text><text x="1855" y="12">大海水</text></g>
</g>
</svg>
